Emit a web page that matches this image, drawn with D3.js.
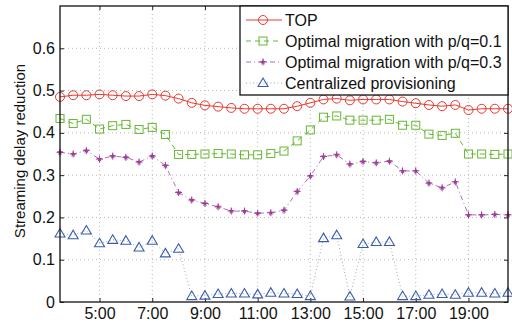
<!DOCTYPE html>
<html>
<head>
<meta charset="utf-8">
<script src="https://cdn.jsdelivr.net/npm/d3@7"></script>
<style>
  body { margin: 0; background: #fff; }
  text { font-family: "Liberation Sans", Arial, sans-serif; fill: #111; }
</style>
</head>
<body>
<div id="chart"></div>
<script>
// half-hour samples from 3:30 to 20:30
const hours = [3.5, 4, 4.5, 5, 5.5, 6, 6.5, 7, 7.5, 8, 8.5, 9, 9.5, 10, 10.5, 11,
  11.5, 12, 12.5, 13, 13.5, 14, 14.5, 15, 15.5, 16, 16.5, 17, 17.5, 18, 18.5, 19, 19.5, 20, 20.5];

const topVals = [0.485, 0.489, 0.489, 0.491, 0.489, 0.487, 0.487, 0.491, 0.488, 0.481, 0.471, 0.465, 0.462, 0.459, 0.457, 0.457,
  0.457, 0.457, 0.463, 0.471, 0.479, 0.481, 0.477, 0.479, 0.479, 0.479, 0.474, 0.470, 0.466, 0.463, 0.466, 0.454, 0.457, 0.457, 0.457];
const mig01 = [0.434, 0.422, 0.432, 0.409, 0.417, 0.420, 0.408, 0.413, 0.396, 0.349, 0.349, 0.350, 0.351, 0.350, 0.348, 0.348,
  0.351, 0.357, 0.381, 0.407, 0.437, 0.440, 0.430, 0.430, 0.430, 0.432, 0.418, 0.418, 0.397, 0.394, 0.399, 0.350, 0.350, 0.349, 0.350];
const mig03 = [0.354, 0.350, 0.358, 0.338, 0.345, 0.342, 0.331, 0.345, 0.323, 0.259, 0.241, 0.233, 0.225, 0.215, 0.215, 0.210,
  0.211, 0.217, 0.261, 0.298, 0.344, 0.348, 0.326, 0.332, 0.329, 0.333, 0.310, 0.310, 0.281, 0.270, 0.284, 0.206, 0.206, 0.207, 0.206];
const central = [0.162, 0.158, 0.169, 0.139, 0.147, 0.145, 0.129, 0.145, 0.115, 0.126, 0.014, 0.015, 0.019, 0.020, 0.020, 0.018,
  0.022, 0.020, 0.019, 0.014, 0.151, 0.158, 0.013, 0.137, 0.142, 0.142, 0.014, 0.014, 0.017, 0.019, 0.017, 0.022, 0.022, 0.020, 0.022];

const xTicks = [5, 7, 9, 11, 13, 15, 17, 19];
const yTicks = [0, 0.1, 0.2, 0.3, 0.4, 0.5, 0.6];

const series = [
  { name: "TOP", values: topVals, color: "#e8382f", lineColor: "#e8382f", dash: null, marker: "circle" },
  { name: "Optimal migration with p/q=0.1", values: mig01, color: "#66b732", lineColor: "#66b732", dash: "5,4", marker: "square" },
  { name: "Optimal migration with p/q=0.3", values: mig03, color: "#9c3f98", lineColor: "#b070b0", dash: "5,3,1,3", marker: "star" },
  { name: "Centralized provisioning", values: central, color: "#3a5cad", lineColor: "#98a4c4", dash: "1,2.5", marker: "triangle" }
];

const margin = { top: 6, right: 4, bottom: 22, left: 60 };
const width = 512 - margin.left - margin.right;
const height = 324 - margin.top - margin.bottom;

const svg = d3.select("#chart")
  .append("svg")
    .attr("width", 512)
    .attr("height", 324)
  .append("g")
    .attr("transform", `translate(${margin.left},${margin.top})`);

const x = d3.scaleLinear().domain([3.5, 20.5]).range([0, width]);
const y = d3.scaleLinear().domain([0, 0.7]).range([height, 0]);

// dotted grid
svg.append("g").selectAll("line.vg")
  .data(xTicks)
  .join("line")
    .attr("x1", d => x(d)).attr("x2", d => x(d))
    .attr("y1", 0).attr("y2", height)
    .attr("stroke", "#b8b8b8").attr("stroke-width", 1)
    .attr("stroke-dasharray", "1,3");
svg.append("g").selectAll("line.hg")
  .data(yTicks.filter(d => d > 0))
  .join("line")
    .attr("x1", 0).attr("x2", width)
    .attr("y1", d => y(d)).attr("y2", d => y(d))
    .attr("stroke", "#b8b8b8").attr("stroke-width", 1)
    .attr("stroke-dasharray", "1,3");

// axes (ticks pointing inward, labels only bottom/left)
svg.append("g")
  .attr("transform", `translate(0,${height})`)
  .call(d3.axisBottom(x).tickValues(xTicks).tickSize(-4).tickPadding(6).tickFormat(d => d + ":00"));
svg.append("g")
  .call(d3.axisLeft(y).tickValues(yTicks).tickSize(-4).tickPadding(5).tickFormat(d => d === 0 ? "0" : d3.format(".1f")(d)));
svg.append("g")
  .call(d3.axisTop(x).tickValues(xTicks).tickSize(-4).tickFormat(""));
svg.append("g")
  .attr("transform", `translate(${width},0)`)
  .call(d3.axisRight(y).tickValues(yTicks).tickSize(-4).tickFormat(""));

svg.selectAll(".domain").remove();
svg.selectAll(".tick line").attr("stroke", "#222");
svg.selectAll(".tick text").style("font-size", "16px");

// series lines
const line = d3.line()
  .x((d, i) => x(hours[i]))
  .y(d => y(d));

series.forEach(s => {
  svg.append("path")
    .datum(s.values)
    .attr("d", line)
    .attr("fill", "none")
    .attr("stroke", s.lineColor)
    .attr("stroke-width", 1)
    .attr("stroke-dasharray", s.dash);
});

// marker shapes
function drawMarker(g, type, color) {
  if (type === "circle") {
    g.append("circle").attr("r", 4.5).attr("fill", "none").attr("stroke", color).attr("stroke-width", 1);
  } else if (type === "square") {
    g.append("rect").attr("x", -4).attr("y", -4).attr("width", 8).attr("height", 8)
      .attr("fill", "none").attr("stroke", color).attr("stroke-width", 1);
  } else if (type === "star") {
    g.append("path").attr("d", d3.symbol(d3.symbolStar, 12)()).attr("fill", color);
    g.append("path").attr("d", "M-3.5,0H3.5M0,-3.5V3.5").attr("stroke", color).attr("stroke-width", 1);
  } else if (type === "triangle") {
    g.append("path").attr("d", "M0,-5L5,3.5L-5,3.5Z")
      .attr("fill", "none").attr("stroke", color).attr("stroke-width", 1.1);
  }
}

series.forEach(s => {
  svg.append("g").selectAll("g")
    .data(s.values)
    .join("g")
      .attr("transform", (d, i) => `translate(${x(hours[i])},${y(d)})`)
      .each(function () { drawMarker(d3.select(this), s.marker, s.color); });
});

// frame
svg.append("rect")
  .attr("width", width).attr("height", height)
  .attr("fill", "none").attr("stroke", "#111").attr("stroke-width", 1.3);

// y axis title
svg.append("text")
  .attr("transform", `translate(${-35},${height / 2 - 3}) rotate(-90)`)
  .attr("text-anchor", "middle")
  .style("font-size", "15px")
  .text("Streaming delay reduction");

// legend
const legW = 268, legH = 89;
const legend = svg.append("g").attr("transform", `translate(${width - legW},0)`);
legend.append("rect")
  .attr("width", legW).attr("height", legH)
  .attr("fill", "#fff").attr("stroke", "#111").attr("stroke-width", 1.3);

series.forEach((s, i) => {
  const row = legend.append("g").attr("transform", `translate(0,${14 + i * 21})`);
  row.append("line")
    .attr("x1", 6).attr("x2", 42)
    .attr("stroke", s.lineColor).attr("stroke-width", 1)
    .attr("stroke-dasharray", s.dash);
  const m = row.append("g").attr("transform", "translate(23,0)");
  drawMarker(m, s.marker, s.color);
  row.append("text")
    .attr("x", 45).attr("y", 0).attr("dy", "0.35em")
    .style("font-size", "16px")
    .text(s.name);
});
</script>
</body>
</html>
